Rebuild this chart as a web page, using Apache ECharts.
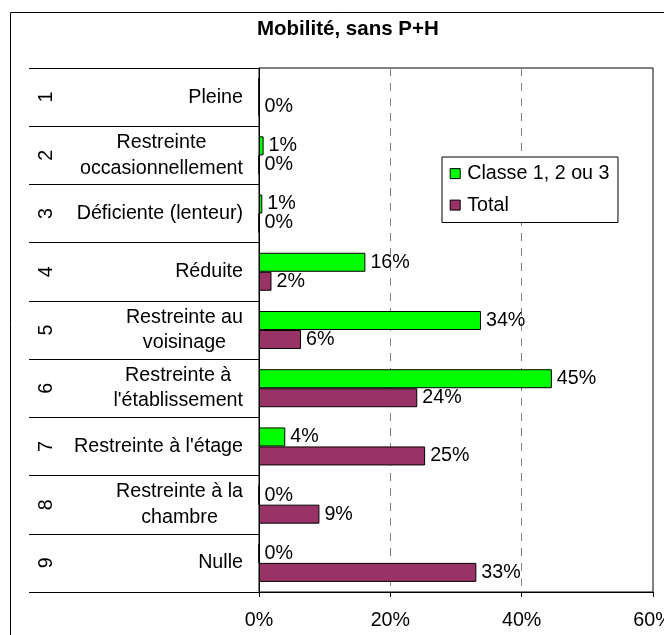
<!DOCTYPE html>
<html>
<head>
<meta charset="utf-8">
<script src="https://cdn.jsdelivr.net/npm/echarts@6/dist/echarts.min.js"></script>
<style>
  html, body { margin: 0; padding: 0; background: #fff; }
  #chart { width: 664px; height: 635px; }
</style>
</head>
<body>
<div id="chart"></div>
<script>
// ---- Data ----
const chartTitle = 'Mobilité, sans P+H';
const categoryNumbers = ['1', '2', '3', '4', '5', '6', '7', '8', '9'];
const categoryLabels = [
  'Pleine',
  'Restreinte\noccasionnellement',
  'Déficiente (lenteur)',
  'Réduite',
  'Restreinte au\nvoisinage',
  'Restreinte à\nl\'établissement',
  'Restreinte à l\'étage',
  'Restreinte à la\nchambre',
  'Nulle'
];
const seriesNames = ['Classe 1, 2 ou 3', 'Total'];
const classeValues = [0, 0.7, 0.5, 16.2, 33.8, 44.6, 4.0, 0, 0];
const totalValues = [0, 0, 0, 1.9, 6.4, 24.1, 25.3, 9.2, 33.1];
const classeHiddenLabels = [0]; // index of labels not shown in the reference
const xMin = 0, xMax = 60, xStep = 20;

// ---- Chart ----
const FONT = "'Liberation Sans', Arial, sans-serif";
const FS = 19.7;
const chart = echarts.init(document.getElementById('chart'), null, { renderer: 'canvas' });

const labelFmt = p => Math.round(p.value) + '%';

const option = {
  backgroundColor: '#fff',
  animation: false,
  textStyle: { fontFamily: FONT, color: '#000' },
  graphic: [
    {
      type: 'line', z: 100, silent: true,
      shape: { x1: 10.5, y1: 12.5, x2: 664, y2: 12.5 },
      style: { stroke: '#000', lineWidth: 1 }
    },
    {
      type: 'line', z: 100, silent: true,
      shape: { x1: 10.5, y1: 12.5, x2: 10.5, y2: 635 },
      style: { stroke: '#000', lineWidth: 1 }
    }
  ],
  title: {
    text: chartTitle,
    left: 257,
    top: 19,
    padding: 0,
    textStyle: { fontFamily: FONT, fontSize: 20.5, fontWeight: 'bold', color: '#000' }
  },
  legend: {
    orient: 'vertical',
    left: 442,
    top: 157,
    padding: [6.6, 8.5, 7.4, 7.7],
    itemGap: 11.5,
    itemWidth: 10,
    itemHeight: 10,
    backgroundColor: '#fff',
    borderColor: '#000',
    borderWidth: 1,
    borderRadius: 0,
    icon: 'rect',
    itemStyle: { borderColor: '#000', borderWidth: 1 },
    textStyle: { fontFamily: FONT, fontSize: FS, color: '#000', padding: [0, 0, 0, 2] },
    data: seriesNames
  },
  grid: {
    left: 259,
    right: 11,
    top: 68,
    bottom: 43,
    show: true,
    borderColor: '#000',
    borderWidth: 1,
    backgroundColor: 'transparent',
    containLabel: false,
    outerBoundsMode: 'none'
  },
  xAxis: {
    type: 'value',
    min: xMin,
    max: xMax,
    interval: xStep,
    axisLine: { show: true, lineStyle: { color: '#000', width: 1 } },
    axisTick: { show: true, length: 5, inside: false, lineStyle: { color: '#000' } },
    axisLabel: {
      show: true,
      formatter: '{value}%',
      fontFamily: FONT,
      fontSize: FS,
      color: '#000',
      margin: 19
    },
    splitLine: {
      show: true,
      showMinLine: false,
      showMaxLine: false,
      lineStyle: { color: '#808080', width: 1, type: [8, 7] }
    }
  },
  yAxis: [
    {
      type: 'category',
      data: categoryLabels,
      inverse: true,
      position: 'left',
      axisLine: { show: true, lineStyle: { color: '#000', width: 1 } },
      axisTick: { show: true, length: 230, inside: false, interval: 0, lineStyle: { color: '#000' } },
      axisLabel: {
        show: true,
        interval: 0,
        align: 'right',
        margin: 16,
        fontFamily: FONT,
        fontSize: FS,
        color: '#000',
        formatter: v => v.split('\n').map(l => '{c|' + l + '}').join('\n'),
        rich: {
          c: { align: 'center', fontFamily: FONT, fontSize: FS, color: '#000', lineHeight: 25.5 }
        }
      },
      splitLine: { show: false }
    },
    {
      type: 'category',
      data: categoryNumbers,
      inverse: true,
      position: 'left',
      axisLine: { show: false },
      axisTick: { show: false },
      axisLabel: {
        show: true,
        interval: 0,
        rotate: 90,
        margin: 202.5,
        fontFamily: FONT,
        fontSize: FS,
        color: '#000'
      },
      splitLine: { show: false }
    }
  ],
  series: [
    {
      name: seriesNames[0],
      type: 'bar',
      yAxisIndex: 0,
      barWidth: 19,
      barGap: '0%',
      itemStyle: { color: '#00FF00', borderColor: '#000', borderWidth: 1 },
      label: {
        show: true,
        position: 'right',
        distance: 5,
        formatter: labelFmt,
        fontFamily: FONT,
        fontSize: FS,
        color: '#000'
      },
      data: classeValues.map((v, i) => classeHiddenLabels.includes(i) ? { value: v, label: { show: false } } : v)
    },
    {
      name: seriesNames[1],
      type: 'bar',
      yAxisIndex: 0,
      barWidth: 19,
      barGap: '0%',
      itemStyle: { color: '#993366', borderColor: '#000', borderWidth: 1 },
      label: {
        show: true,
        position: 'right',
        distance: 5,
        formatter: labelFmt,
        fontFamily: FONT,
        fontSize: FS,
        color: '#000'
      },
      data: totalValues
    }
  ]
};
chart.setOption(option);
</script>
</body>
</html>
